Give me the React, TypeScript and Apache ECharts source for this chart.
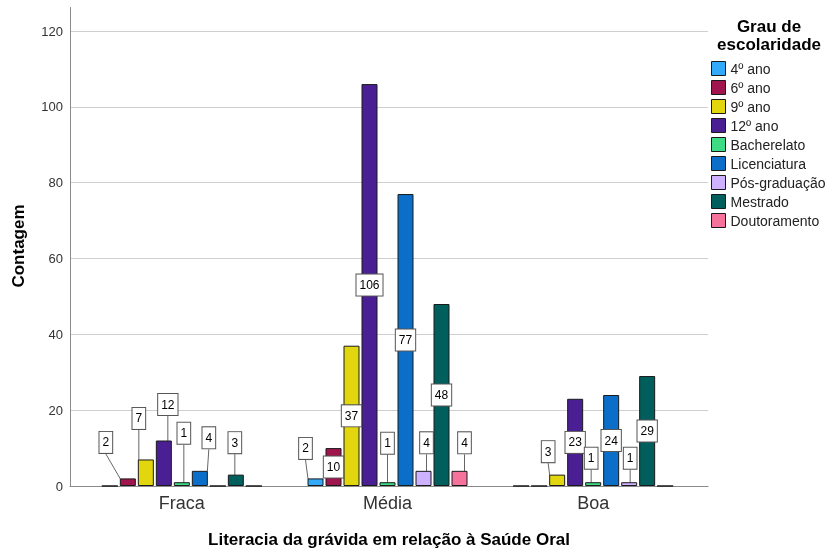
import React, { useEffect, useRef } from "react";
import * as echarts from "echarts";

const categories = ["Fraca", "Média", "Boa"];
const seriesNames = [
  "4º ano",
  "6º ano",
  "9º ano",
  "12º ano",
  "Bacherelato",
  "Licenciatura",
  "Pós-graduação",
  "Mestrado",
  "Doutoramento",
];
const ano4 = [0, 2, 0];
const ano6 = [2, 10, 0];
const ano9 = [7, 37, 3];
const ano12 = [12, 106, 23];
const bacherelato = [1, 1, 1];
const licenciatura = [4, 77, 24];
const posGraduacao = [0, 4, 1];
const mestrado = [3, 48, 29];
const doutoramento = [0, 4, 0];
const seriesValues = [ano4, ano6, ano9, ano12, bacherelato, licenciatura, posGraduacao, mestrado, doutoramento];
const yTicks = [0, 20, 40, 60, 80, 100, 120];

const colors = ["#33a9f9", "#a1154f", "#e2d70f", "#4b1f94", "#3ddc84", "#0b6fca", "#cfb2ff", "#005e5c", "#f5729c"];

// callout offsets (label centre relative to bar top-centre), key: category-series
const callouts: Record<string, [number, number]> = {
  "0-1": [-22, -36],
  "0-2": [-7, -41],
  "0-3": [4, -36],
  "0-4": [2, -49],
  "0-5": [9, -33],
  "0-7": [-1, -32],
  "1-0": [-10, -30],
  "1-4": [0, -39],
  "1-6": [3, -28],
  "1-8": [5, -28],
  "2-2": [-9, -23],
  "2-4": [-2, -24],
  "2-6": [1, -24],
};

const FONT = "'Liberation Sans', Arial, sans-serif";

export default function App() {
  const ref = useRef<HTMLDivElement>(null);
  useEffect(() => {
    if (!ref.current) return;
    const chart = echarts.init(ref.current, undefined, { renderer: "svg" });
    const series = seriesNames.map((name, si) => ({
      name,
      type: "bar",
      xAxisIndex: 1,
      yAxisIndex: 1,
      barWidth: 16,
      barGap: "12.5%",
      itemStyle: { color: colors[si], borderColor: "#1a1a1a", borderWidth: 1 },
      label: {
        show: true,
        position: "inside",
        color: "#000",
        fontSize: 12,
        fontFamily: FONT,
        backgroundColor: "#fff",
        borderColor: "#555",
        borderWidth: 1,
        padding: [3, 3, 3, 3],
        lineHeight: 15,
      },
      labelLine: { show: true, lineStyle: { color: "#666", width: 1 } },
      labelLayout: (p: any) => {
        const off = callouts[`${p.dataIndex}-${si}`];
        if (!off) return {};
        const r = p.rect;
        return {
          x: r.x + r.width / 2 + off[0],
          y: r.y + off[1],
          align: "center",
          verticalAlign: "middle",
        };
      },
      data: seriesValues[si].map((v, ci) => ({
        value: v,
        label: { show: v > 0 },
        labelLine: { show: v > 0 && !!callouts[`${ci}-${si}`] },
      })),
    }));

    chart.setOption({
      animation: false,
      textStyle: { fontFamily: FONT },
      grid: [
        { left: 70, right: 119, top: 31, bottom: 66 },
        { left: 79, right: 131, top: 31, bottom: 66 },
      ],
      xAxis: [
        {
          gridIndex: 0,
          type: "category",
          data: categories,
          axisLine: { show: true, lineStyle: { color: "#8a8a8a", width: 1 } },
          axisTick: { show: false },
          axisLabel: { show: false },
        },
        {
          gridIndex: 1,
          type: "category",
          data: categories,
          axisLine: { show: false },
          axisTick: { show: false },
          axisLabel: { fontSize: 18, color: "#333", margin: 8, fontFamily: FONT },
        },
      ],
      yAxis: [
        {
          gridIndex: 0,
          type: "value",
          min: yTicks[0],
          max: yTicks[yTicks.length - 1],
          interval: 20,
          axisLine: { show: true, lineStyle: { color: "#8a8a8a", width: 1 } },
          axisTick: { show: false },
          axisLabel: { fontSize: 13, color: "#333", margin: 7, fontFamily: FONT },
          splitLine: { show: true, lineStyle: { color: "#cfcfcf", width: 1 } },
        },
        {
          gridIndex: 1,
          type: "value",
          min: yTicks[0],
          max: yTicks[yTicks.length - 1],
          interval: 20,
          show: false,
          splitLine: { show: false },
        },
      ],
      legend: {
        orient: "vertical",
        left: 706,
        top: 56,
        itemWidth: 14,
        itemHeight: 14,
        itemGap: 4,
        icon: "rect",
        data: seriesNames,
        itemStyle: { borderWidth: 1, borderColor: "#1a1a1a" },
        textStyle: { fontSize: 14, lineHeight: 14, color: "#222", fontFamily: FONT },
      },
      graphic: [
        {
          type: "line",
          shape: { x1: 70.5, y1: 7, x2: 70.5, y2: 31 },
          style: { stroke: "#8a8a8a", lineWidth: 1 },
        },
        {
          type: "text",
          x: 18,
          y: 246,
          rotation: Math.PI / 2,
          style: {
            text: "Contagem",
            fontSize: 17,
            fontWeight: "bold",
            fontFamily: FONT,
            fill: "#000",
            textAlign: "center",
            textVerticalAlign: "middle",
          },
        },
        {
          type: "text",
          x: 389,
          y: 539,
          style: {
            text: "Literacia da grávida em relação à Saúde Oral",
            fontSize: 17,
            fontWeight: "bold",
            fontFamily: FONT,
            fill: "#000",
            textAlign: "center",
            textVerticalAlign: "middle",
          },
        },
        {
          type: "text",
          x: 769,
          y: 17,
          style: {
            text: "Grau de\nescolaridade",
            fontSize: 17,
            fontWeight: "bold",
            fontFamily: FONT,
            fill: "#000",
            lineHeight: 18,
            textAlign: "center",
          },
        },
      ],
      series,
    });
    return () => chart.dispose();
  }, []);
  return <div ref={ref} style={{ position: "fixed", left: 0, top: 0, width: 827, height: 552 }} />;
}
